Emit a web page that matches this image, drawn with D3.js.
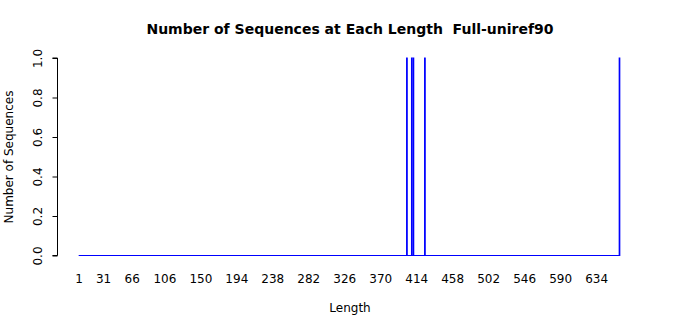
<!DOCTYPE html>
<html>
<head>
<meta charset="utf-8">
<script src="https://cdn.jsdelivr.net/npm/d3@7"></script>
<style>
	body { margin: 0; background: #fff; }
	text { font-family: 'DejaVu Sans', sans-serif; fill: #000; white-space: pre; }
</style>
</head>
<body>
<svg id="chart" width="700" height="315"></svg>
<script>
// lengths that have sequences, and how many
const lengths = [402, 408, 410, 424, 662];
const counts = [1, 1, 1, 1, 1];
// labels R kept on the x axis
const xTickLabels = [1, 31, 66, 106, 150, 194, 238, 282, 326, 370, 414, 458, 502, 546, 590, 634];
const yTicks = [0, 0.2, 0.4, 0.6, 0.8, 1.0];
const minLength = 1;
const maxLength = 662;

const svg = d3.select('svg[id=chart]');

const x = d3.scaleLinear().domain([minLength, maxLength]).range([79, 619.5]);
const y = d3.scaleLinear().domain([0, 1]).range([255.5, 58]);
const barWidth = (x(2) - x(1)) / 1.2; // R barplot space = 0.2

// title
svg.append('text')
	.attr('x', 350)
	.attr('y', 34)
	.attr('text-anchor', 'middle')
	.attr('font-size', 14)
	.attr('font-weight', 'bold')
	.text('Number of Sequences at Each Length  Full-uniref90');

// zero-height bars show up as a blue baseline
svg.append('line')
	.attr('x1', x(minLength) - barWidth / 2)
	.attr('x2', x(maxLength) + barWidth / 2)
	.attr('y1', y(0))
	.attr('y2', y(0))
	.attr('stroke', 'blue');

svg.selectAll('.bar')
	.data(lengths)
	.join('rect')
	.attr('class', 'bar')
	.attr('x', (d) => x(d) - barWidth / 2)
	.attr('width', barWidth)
	.attr('y', (d, i) => y(counts[i]))
	.attr('height', (d, i) => y(0) - y(counts[i]))
	.attr('fill', 'blue')
	.attr('stroke', 'blue')
	.attr('stroke-width', 1);

// x labels, no tick marks
svg.selectAll('.xlab')
	.data(xTickLabels)
	.join('text')
	.attr('class', 'xlab')
	.attr('x', (d) => x(d))
	.attr('y', 283)
	.attr('text-anchor', 'middle')
	.attr('font-size', 12)
	.text((d) => d);

// y axis
const yAxis = d3.axisLeft(y)
	.tickValues(yTicks)
	.tickSize(5)
	.tickFormat(d3.format('.1f'));

const yg = svg.append('g')
	.attr('transform', 'translate(57.5,0)')
	.call(yAxis);
yg.select('.domain').attr('d', `M-5,${y(0)}H0V${y(1)}H-5`);
// labels sit inside each tick group, so rotate about the tick itself
yg.selectAll('.tick text')
	.attr('font-size', 12)
	.attr('font-family', "'DejaVu Sans', sans-serif")
	.attr('fill', '#000')
	.attr('transform', 'rotate(-90)')
	.attr('text-anchor', 'middle')
	.attr('x', 0)
	.attr('y', -16)
	.attr('dy', 0);

svg.append('text')
	.attr('transform', 'translate(13,157) rotate(-90)')
	.attr('text-anchor', 'middle')
	.attr('font-size', 12)
	.text('Number of Sequences');

svg.append('text')
	.attr('x', 350)
	.attr('y', 312)
	.attr('text-anchor', 'middle')
	.attr('font-size', 12)
	.text('Length');
</script>
</body>
</html>
